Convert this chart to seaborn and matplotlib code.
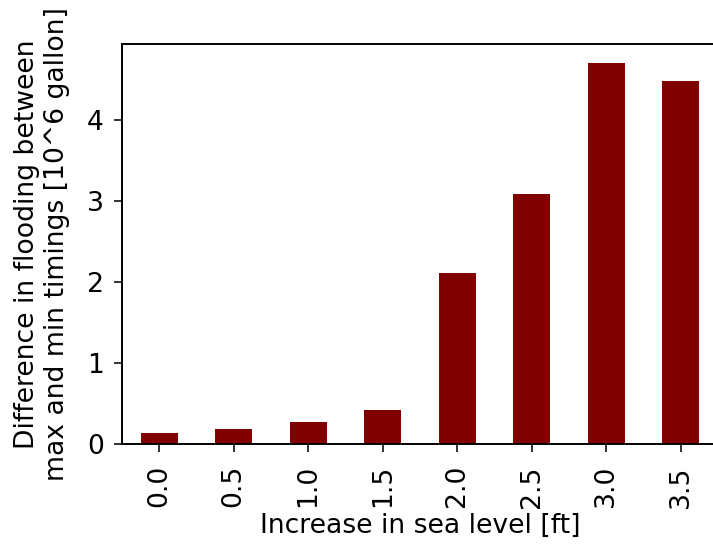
import matplotlib
matplotlib.use("Agg")
import matplotlib.pyplot as plt
import seaborn as sns
import pandas as pd

# Sea-level increase scenarios [ft] and flooding difference [10^6 gallon]
sea_level = ["0.0", "0.5", "1.0", "1.5", "2.0", "2.5", "3.0", "3.5"]
flood_diff = [0.13, 0.19, 0.27, 0.42, 2.11, 3.09, 4.71, 4.49]

df = pd.DataFrame({"sea_level": sea_level, "flood_diff": flood_diff})

plt.rcParams["font.family"] = ["DejaVu Sans"]
plt.rcParams["font.size"] = 13.7

dpi = 140
fig = plt.figure(figsize=(713 / dpi, 548 / dpi), dpi=dpi)
ax = fig.add_axes([122 / 713, 104 / 548, 596 / 713, 400 / 548])

sns.barplot(data=df, x="sea_level", y="flood_diff", color="#800000",
            saturation=1, width=0.5, ax=ax)

ax.set_xlim(-0.5, 7.5)
ax.set_ylim(0, max(flood_diff) * 1.05)
ax.set_yticks([0, 1, 2, 3, 4])
ax.tick_params(axis="x", labelrotation=90, length=4.3, pad=6.5)
ax.tick_params(axis="y", length=4.3, pad=5)
for side in ax.spines.values():
    side.set_linewidth(1.0)
ax.set_xlabel("Increase in sea level [ft]", labelpad=3)
ax.set_ylabel("Difference in flooding between\nmax and min timings [10^6 gallon]",
              labelpad=8.5)

fig.savefig("out.png", dpi=dpi)
